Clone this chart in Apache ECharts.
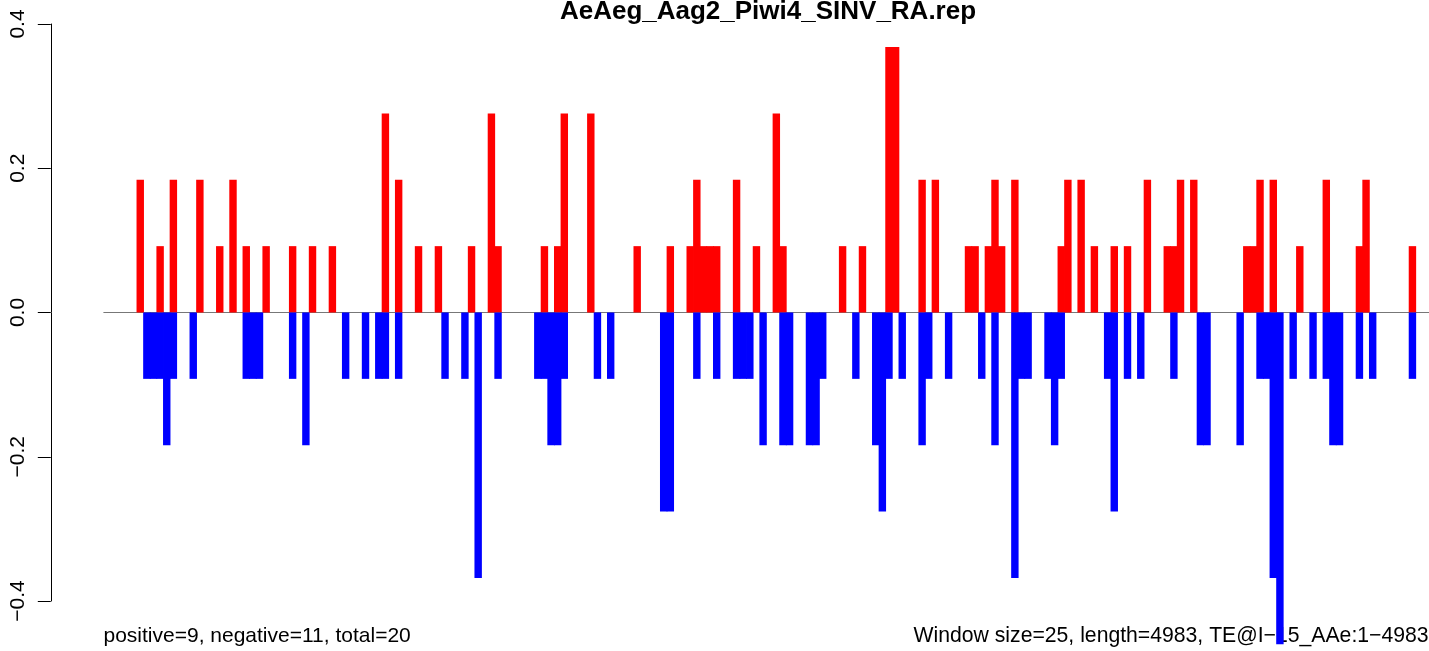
<!DOCTYPE html>
<html>
<head>
<meta charset="utf-8">
<script src="https://cdn.jsdelivr.net/npm/echarts@6.0.0/dist/echarts.min.js"></script>
<style>
html,body{margin:0;padding:0;background:#fff;}
#chart{width:1429px;height:651px;}
</style>
</head>
<body>
<div id="chart"></div>
<script>
// ---- data ----
const titleText = 'AeAeg_Aag2_Piwi4_SINV_RA.rep';
const footLeft = 'positive=9, negative=11, total=20';
const footRight = 'Window size=25, length=4983, TE@I\u221215_AAe:1\u22124983';
const nBins = 200;
const yTicks = [-0.4, -0.2, 0.0, 0.2, 0.4];

// positive (sense) windows: bin index and value
const posBins = [5,8,10,14,17,19,21,24,28,31,34,42,44,47,50,55,58,59,66,68,69,73,80,85,88,89,90,91,92,95,98,101,102,111,114,118,119,123,125,130,131,133,134,135,137,144,145,147,149,152,154,157,160,161,162,164,172,173,174,176,180,184,189,190,197];
const posVals = [0.184,0.092,0.184,0.184,0.092,0.184,0.092,0.092,0.092,0.092,
                 0.092,0.276,0.184,0.092,0.092,0.092,0.276,0.092,0.092,0.092,
                 0.276,0.276,0.092,0.092,0.092,0.184,0.092,0.092,0.092,0.184,
                 0.092,0.276,0.092,0.092,0.092,0.368,0.368,0.184,0.184,0.092,
                 0.092,0.092,0.184,0.092,0.184,0.092,0.184,0.184,0.092,0.092,
                 0.092,0.184,0.092,0.092,0.184,0.184,0.092,0.092,0.184,0.184,
                 0.092,0.184,0.092,0.184,0.092];

// negative (antisense) windows: bin index and value
const negBins = [6,7,8,9,10,13,21,22,23,28,30,36,39,41,42,44,51,54,56,59,65,66,67,68,69,74,76,84,85,89,92,95,96,97,99,102,103,106,107,108,113,116,117,118,120,123,124,127,132,134,137,138,139,142,143,144,151,152,154,156,161,165,166,171,174,175,176,177,179,182,184,185,186,189,191,197];
const negVals = [-0.092,-0.092,-0.092,-0.184,-0.092,-0.092,-0.092,-0.092,-0.092,-0.092,
                 -0.184,-0.092,-0.092,-0.092,-0.092,-0.092,-0.092,-0.092,-0.368,-0.092,
                 -0.092,-0.092,-0.184,-0.184,-0.092,-0.092,-0.092,-0.276,-0.276,-0.092,
                 -0.092,-0.092,-0.092,-0.092,-0.184,-0.184,-0.184,-0.184,-0.184,-0.092,
                 -0.092,-0.184,-0.276,-0.092,-0.092,-0.184,-0.092,-0.092,-0.092,-0.184,
                 -0.368,-0.092,-0.092,-0.092,-0.184,-0.092,-0.092,-0.276,-0.092,-0.092,
                 -0.092,-0.184,-0.184,-0.184,-0.092,-0.092,-0.368,-0.46,-0.092,-0.092,
                 -0.092,-0.184,-0.184,-0.092,-0.092,-0.092];

// ---- build series arrays ----
const categories = [];
for (let i = 0; i < nBins; i++) categories.push(String(i + 1));
const posData = new Array(nBins).fill(null);
posBins.forEach((b, k) => { posData[b] = posVals[k]; });
const negData = new Array(nBins).fill(null);
negBins.forEach((b, k) => { negData[b] = negVals[k]; });

const FONT = '"Liberation Sans", Arial, Helvetica, sans-serif';
const chart = echarts.init(document.getElementById('chart'), null, {renderer: 'canvas'});
chart.setOption({
  animation: false,
  backgroundColor: '#ffffff',
  grid: {left: 103.8, right: -2.9, top: 24, bottom: 50, containLabel: false},
  xAxis: {
    type: 'category',
    data: categories,
    axisLine: {show: true, onZero: true, lineStyle: {color: '#777777', width: 1}},
    axisTick: {show: false},
    axisLabel: {show: false},
    splitLine: {show: false},
    z: 1
  },
  yAxis: {
    type: 'value',
    min: -0.4, max: 0.4, interval: 0.2,
    offset: 53,
    axisLine: {show: true, lineStyle: {color: '#000', width: 1}},
    axisTick: {show: true, length: 13, lineStyle: {color: '#000', width: 1}},
    axisLabel: {
      rotate: 90, margin: 22, color: '#000', fontSize: 21, fontFamily: FONT,
      formatter: v => (Math.abs(v) < 1e-9 ? '0.0' : v.toFixed(1).replace('-', '\u2212'))
    },
    splitLine: {show: false}
  },
  series: [
    {type: 'bar', name: 'positive', data: posData,
     itemStyle: {color: '#ff0000'},
     barWidth: '112%', barGap: '-100%', barCategoryGap: '0%', clip: false, z: 2},
    {type: 'bar', name: 'negative', data: negData,
     itemStyle: {color: '#0000ff'},
     barWidth: '112%', barGap: '-100%', barCategoryGap: '0%', clip: false, z: 2}
  ],
  graphic: [
    {type: 'text', x: 768, y: 12, style: {text: titleText, font: 'bold 26px ' + FONT, fill: '#000', textAlign: 'center', textVerticalAlign: 'middle'}},
    {type: 'text', x: 103.5, y: 636, style: {text: footLeft, font: '21px ' + FONT, fill: '#000', textAlign: 'left', textVerticalAlign: 'middle'}},
    {type: 'text', x: 913.5, y: 636, style: {text: footRight, font: '21.2px ' + FONT, fill: '#000', textAlign: 'left', textVerticalAlign: 'middle'}}
  ]
});
</script>
</body>
</html>
